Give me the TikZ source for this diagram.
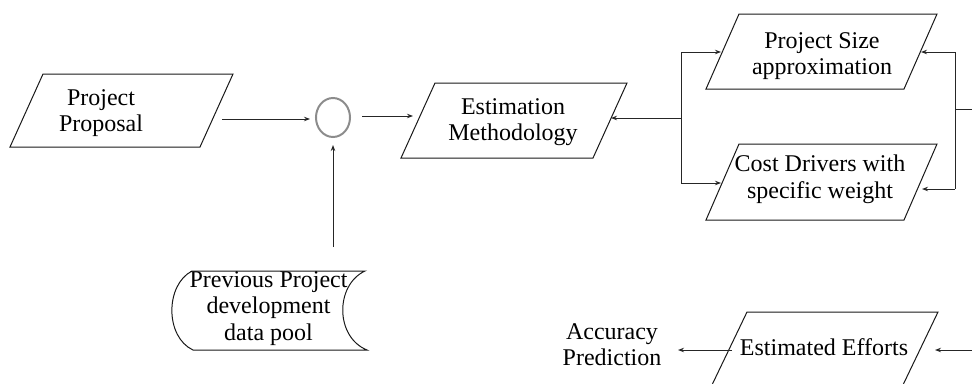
\documentclass[tikz,border=0pt]{standalone}
\usepackage{fontspec}
\setmainfont{Liberation Serif}
\usetikzlibrary{arrows.meta,shapes.geometric}

\tikzset{
  lbl/.style={align=center, inner sep=0pt, font=\fontsize{24}{26.5}\selectfont},
  outline/.style={draw=black!90, line width=1pt, line join=miter},
  wire/.style={draw=black!85, line width=1pt},
  link/.style={wire, -{Stealth[length=6pt,width=4.5pt]}},
  junction/.style={draw=black!45, line width=2pt, ellipse, minimum width=34pt, minimum height=39pt, inner sep=0pt},
}

% slanted input/output box: name, centre x, centre y, edge length, height, slant
\newcommand\slantbox[6]{%
  \draw[outline] ({#2-#4/2+#6/2},{#3-#5/2}) -- ({#2+#4/2+#6/2},{#3-#5/2})
     -- ({#2+#4/2-#6/2},{#3+#5/2}) -- ({#2-#4/2-#6/2},{#3+#5/2}) -- cycle;
  \coordinate (#1-w) at ({#2-#4/2},#3);
  \coordinate (#1-e) at ({#2+#4/2},#3);
}

\begin{document}
\begin{tikzpicture}[x=1pt,y=-1pt]
\useasboundingbox (0,0) rectangle (972,383);
\clip (0,0) rectangle (972,383);

% shapes
\slantbox{ppbox}{121.5}{110.5}{190}{73}{33}
\slantbox{embox}{514}{120.5}{192}{75}{34}
\slantbox{psbox}{821.5}{51.5}{198}{75}{33}
\slantbox{cdbox}{821.5}{182}{198}{76}{33}
\slantbox{eebox}{824.5}{349.5}{191}{75}{36}

% stored data shape
\draw[outline] (192,271) -- (365,271)
  .. controls (335,285) and (335,337) .. (367,350) -- (193,350)
  .. controls (165,337) and (165,285) .. (192,271) -- cycle;

% labels
\node[lbl] (pp) at (101,113) {Project\\Proposal};
\node[lbl] (em) at (513,122) {Estimation\\Methodology};
\node[lbl] (ps) at (822,56) {Project Size\\approximation};
\node[lbl] (cd) at (820,179.5) {Cost Drivers with\\specific weight};
\node[lbl] (dp) at (268.5,308.5) {Previous Project\\development\\data pool};
\node[lbl] (ee) at (824,347) {Estimated Efforts};
\node[lbl] (acc) at (612,344.5) {Accuracy\\Prediction};

% merge point
\node[junction] (jn) at (333,117.5) {};

% connection points
\coordinate (ppOut) at (222,119);
\coordinate (jnIn) at (310,119);
\coordinate (dpOut) at (333,247);
\coordinate (jnInB) at (333,145);
\coordinate (jnOut) at (362,116);
\coordinate (emIn) at (413,116);
\coordinate (emInR) at (611,118);
\coordinate (splitL) at (681,118);
\coordinate (splitTop) at (681,52);
\coordinate (splitBot) at (681,183);
\coordinate (psIn) at (721,52);
\coordinate (cdIn) at (721,183);
\coordinate (joinR) at (955,109);
\coordinate (joinTop) at (955,52);
\coordinate (joinBot) at (955,189);
\coordinate (psInR) at (921,52);
\coordinate (cdInR) at (922,189);
\coordinate (offR) at (972,109);
\coordinate (eeFeed) at (972,350);
\coordinate (eeIn) at (935,350);
\coordinate (eeOut) at (732,350);
\coordinate (accIn) at (678,350);

% connectors
\draw[link] (ppOut) -- (jnIn);
\draw[link] (dpOut) -- (jnInB);
\draw[link] (jnOut) -- (emIn);
\draw[link] (splitL) -- (emInR);
\draw[wire] (splitTop) -- (splitBot);
\draw[link] (splitTop) -- (psIn);
\draw[link] (splitBot) -- (cdIn);
\draw[wire] (joinTop) -- (joinBot);
\draw[wire] (joinR) -- (offR);
\draw[link] (joinTop) -- (psInR);
\draw[link] (joinBot) -- (cdInR);
\draw[link] (eeFeed) -- (eeIn);
\draw[link] (eeOut) -- (accIn);
\end{tikzpicture}
\end{document}
